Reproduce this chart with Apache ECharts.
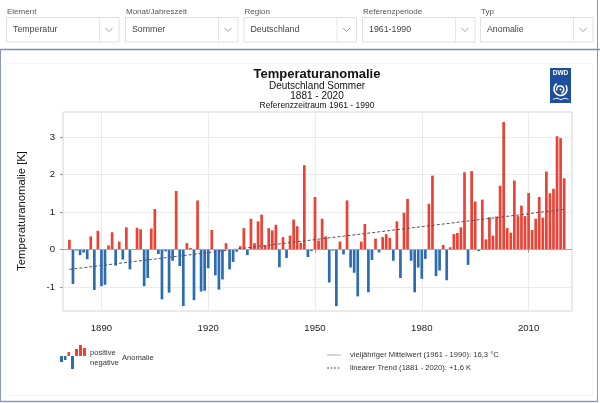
<!DOCTYPE html>
<html><head><meta charset="utf-8">
<script src="https://cdn.jsdelivr.net/npm/echarts@6/dist/echarts.min.js"></script>
<style>html,body{margin:0;padding:0;background:#fff}#c{width:600px;height:403px}</style>
</head><body><div id="c"></div>
<script>
const FONT = 'Liberation Sans, Arial, Helvetica, sans-serif';
const firstYear = 1881;
const anomaly = [
  0.26,-0.92,-0.03,-0.15,-0.08,-0.26,0.35,-1.08,0.50,-0.98,
  -0.94,0.11,0.46,-0.43,0.21,-0.27,0.59,-0.53,0.01,0.58,
  0.54,-0.98,-0.76,0.56,1.08,-0.12,-1.33,-0.05,-1.15,-0.30,
  1.56,-0.44,-1.51,0.17,0.04,-1.35,1.31,-1.12,-1.10,-0.50,
  0.52,-0.69,-1.07,-0.80,0.17,-0.53,-0.33,-0.06,0.09,0.57,
  -0.15,0.82,0.17,0.75,0.93,0.11,0.57,0.51,0.66,-0.47,
  0.33,-0.23,0.37,0.80,0.62,0.18,2.25,-0.20,-0.04,1.40,
  0.24,0.82,0.35,-0.88,-0.03,-1.51,0.21,-0.13,1.31,-0.48,
  -0.62,-1.25,0.21,0.68,-1.14,-0.28,0.29,-0.08,0.33,0.41,
  0.31,-0.30,0.75,-0.76,0.98,1.35,-0.30,-1.14,-0.48,-0.78,
  -0.25,1.22,1.97,-0.71,-0.56,0.12,-0.82,0.06,0.41,0.44,
  0.59,2.06,-0.41,2.09,1.28,-0.04,1.33,0.27,0.86,0.37,
  0.88,1.70,3.40,0.57,0.45,1.84,0.89,1.17,0.89,1.51,
  0.52,0.82,1.40,0.85,2.08,1.50,1.62,3.02,2.97,1.90
];
const years = anomaly.map((v, i) => firstYear + i);
const trendYears = [1881, 2020];
const trendValues = [-0.53, 1.07];
const meanValue = 0;
const xTicks = [1890, 1920, 1950, 1980, 2010];
const yTicks = [-1, 0, 1, 2, 3];
const menuLabels = ['Element', 'Monat/Jahreszeit', 'Region', 'Referenzperiode', 'Typ'];
const menuValues = ['Temperatur', 'Sommer', 'Deutschland', '1961-1990', 'Anomalie'];
const titleLines = ['Temperaturanomalie', 'Deutschland Sommer', '1881 - 2020', 'Referenzzeitraum 1961 - 1990'];
const legendTexts = ['positive', 'negative', 'Anomalie',
  'vieljähriger Mittelwert (1961 - 1990): 16,3 °C', 'linearer Trend (1881 - 2020): +1,6 K'];

const RED = '#ec4236', BLUE = '#2e6cb2';
const chart = echarts.init(document.getElementById('c'), null, {renderer: 'canvas'});

const g = [];
// page frame
g.push({type: 'rect', shape: {x: 5.5, y: 63.5, width: 587, height: 332}, style: {fill: null, stroke: '#f4f4f4', lineWidth: 1}, z: 0});
g.push({type: 'line', shape: {x1: 0, y1: 49.5, x2: 600, y2: 49.5}, style: {stroke: '#7d8cb2', lineWidth: 1.5}});
g.push({type: 'line', shape: {x1: 597.5, y1: 0, x2: 597.5, y2: 401}, style: {stroke: '#8a97b8', lineWidth: 1}});
g.push({type: 'line', shape: {x1: 0.5, y1: 49, x2: 0.5, y2: 401}, style: {stroke: '#8a97b8', lineWidth: 1}});
g.push({type: 'line', shape: {x1: 0, y1: 401.5, x2: 598, y2: 401.5}, style: {stroke: '#8a97b8', lineWidth: 1.5}});
// dropdown menus
const boxX = [6, 125, 243.5, 362, 480];
menuLabels.forEach((lab, i) => {
  const x = boxX[i], w = 112.5;
  g.push({type: 'text', x: x + 1, y: 12, style: {text: lab, font: '8px ' + FONT, fill: '#555', textVerticalAlign: 'middle'}});
  g.push({type: 'rect', shape: {x: x + 0.5, y: 17.5, width: w, height: 24.5}, style: {fill: '#fff', stroke: '#e0e0e0', lineWidth: 1}});
  g.push({type: 'line', shape: {x1: x + w - 19, y1: 18, x2: x + w - 19, y2: 42}, style: {stroke: '#e6e6e6', lineWidth: 1}});
  g.push({type: 'polyline', shape: {points: [[x + w - 13, 28], [x + w - 9.5, 31.5], [x + w - 6, 28]]}, style: {stroke: '#888', lineWidth: 0.8, fill: null}});
  g.push({type: 'text', x: x + 7, y: 30, style: {text: menuValues[i], font: '8.8px ' + FONT, fill: '#444', textVerticalAlign: 'middle'}});
});
// titles
const tFonts = ['bold 13px ', '10px ', '10px ', '8.5px '];
const tY = [74, 86, 96.5, 105.5];
titleLines.forEach((t, i) => {
  g.push({type: 'text', x: 317, y: tY[i], style: {text: t, font: tFonts[i] + FONT, fill: '#111', textAlign: 'center', textVerticalAlign: 'middle'}});
});
// y axis name
g.push({type: 'text', x: 22, y: 211, rotation: Math.PI / 2, style: {text: 'Temperaturanomalie [K]', font: '11.3px ' + FONT, fill: '#111', textAlign: 'center', textVerticalAlign: 'middle'}});
// DWD logo
g.push({type: 'rect', shape: {x: 550, y: 68, width: 21, height: 35}, style: {fill: '#1e4f9d'}});
g.push({type: 'text', x: 560.5, y: 73.5, style: {text: 'DWD', font: 'bold 6.5px ' + FONT, fill: '#fff', textAlign: 'center', textVerticalAlign: 'middle'}});
g.push({type: 'arc', shape: {cx: 560.5, cy: 89, r: 6.5, startAngle: -0.2 * Math.PI, endAngle: 1.3 * Math.PI, clockwise: true}, style: {stroke: '#fff', lineWidth: 1.6, fill: null}});
g.push({type: 'arc', shape: {cx: 560.2, cy: 89.5, r: 3.6, startAngle: 0.9 * Math.PI, endAngle: 2.4 * Math.PI, clockwise: true}, style: {stroke: '#fff', lineWidth: 1.5, fill: null}});
g.push({type: 'circle', shape: {cx: 560.5, cy: 89.5, r: 1}, style: {fill: '#fff'}});
g.push({type: 'polyline', shape: {points: [[553, 99.5], [557, 98.3], [561, 99.5], [565, 98.3], [568.5, 99.5]], smooth: 0.5}, style: {stroke: '#fff', lineWidth: 1, fill: null}});
// legend (left)
const icon = [[60, 356, 3, 6, BLUE], [64, 356, 2.5, 4, BLUE], [67.5, 352, 2.5, 4, RED], [71, 356, 3, 13, BLUE], [75, 349, 3, 7, RED], [79, 345, 3, 11, RED], [83, 348, 3, 8, RED]];
icon.forEach(b => g.push({type: 'rect', shape: {x: b[0], y: b[1], width: b[2], height: b[3]}, style: {fill: b[4]}}));
g.push({type: 'text', x: 90, y: 352.5, style: {text: legendTexts[0], font: '7.6px ' + FONT, fill: '#333', textVerticalAlign: 'middle'}});
g.push({type: 'text', x: 90, y: 363, style: {text: legendTexts[1], font: '7.6px ' + FONT, fill: '#333', textVerticalAlign: 'middle'}});
g.push({type: 'text', x: 122, y: 358, style: {text: legendTexts[2], font: '7.6px ' + FONT, fill: '#333', textVerticalAlign: 'middle'}});
// legend (right)
g.push({type: 'line', shape: {x1: 327, y1: 355, x2: 341, y2: 355}, style: {stroke: '#b0b0b0', lineWidth: 1}});
g.push({type: 'line', shape: {x1: 327, y1: 368, x2: 341, y2: 368}, style: {stroke: '#555', lineWidth: 1, lineDash: [2, 1.5]}});
g.push({type: 'text', x: 350, y: 355, style: {text: legendTexts[3], font: '7.6px ' + FONT, fill: '#333', textVerticalAlign: 'middle'}});
g.push({type: 'text', x: 350, y: 368, style: {text: legendTexts[4], font: '7.6px ' + FONT, fill: '#333', textVerticalAlign: 'middle'}});

const option = {
  animation: false,
  backgroundColor: '#fff',
  textStyle: {fontFamily: FONT},
  grid: {left: 63, top: 112, width: 509, height: 199, show: true, borderColor: '#d4d4d4', borderWidth: 1, backgroundColor: 'transparent'},
  xAxis: {
    type: 'value', min: 1879.2, max: 2022.2,
    axisLine: {show: false},
    axisTick: {show: true, length: 3, lineStyle: {color: '#999'}, customValues: xTicks},
    axisLabel: {customValues: xTicks, fontSize: 9.6, color: '#222', margin: 12, fontFamily: FONT, formatter: v => String(v)},
    splitLine: {show: true, lineStyle: {color: '#ebebeb', width: 1}}
  },
  yAxis: {
    type: 'value', min: -1.64, max: 3.667,
    axisLine: {show: false},
    axisTick: {show: true, length: 3, lineStyle: {color: '#999'}, customValues: yTicks},
    axisLabel: {customValues: yTicks, fontSize: 9.6, color: '#222', margin: 8, fontFamily: FONT, formatter: v => String(v)},
    splitLine: {show: true, lineStyle: {color: '#ebebeb', width: 1}}
  },
  series: [
    {
      type: 'line', data: [], z: 1, silent: true,
      markLine: {silent: true, symbol: 'none', label: {show: false}, lineStyle: {color: '#a8a8a8', width: 1, type: 'solid'}, data: [{yAxis: meanValue}]}
    },
    {
      type: 'bar', z: 2, barWidth: 2.7, silent: true,
      data: years.map((y, i) => [y, anomaly[i]]),
      itemStyle: {color: p => (p.value[1] >= 0 ? RED : BLUE)}
    },
    {
      type: 'line', z: 3, silent: true, symbol: 'none',
      data: trendYears.map((y, i) => [y, trendValues[i]]),
      lineStyle: {color: '#555', width: 1, type: [3, 2]}
    }
  ],
  graphic: {elements: g}
};
chart.setOption(option);
</script></body></html>
